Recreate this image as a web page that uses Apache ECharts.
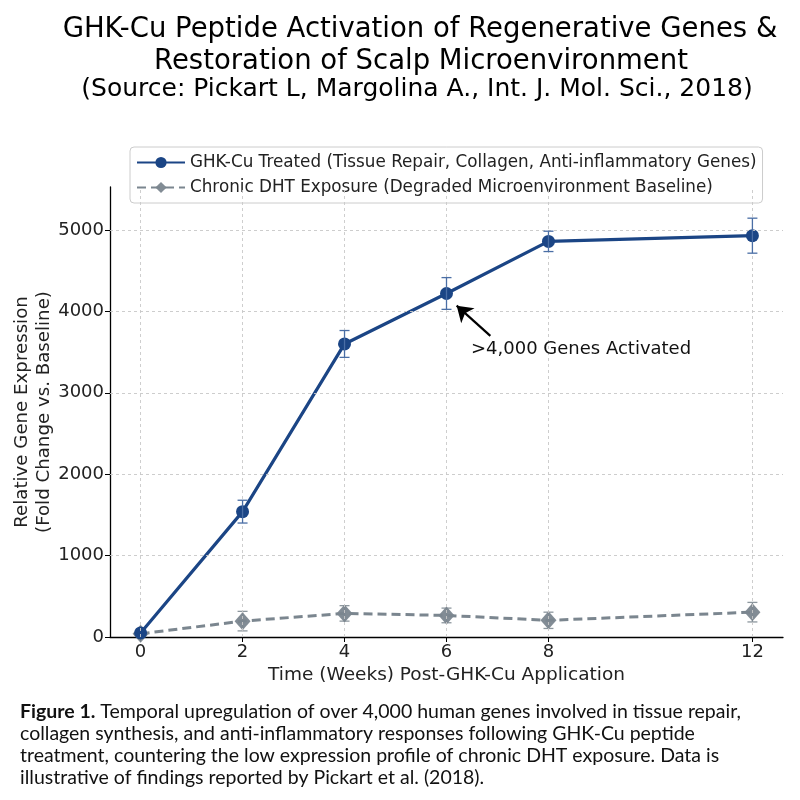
<!DOCTYPE html>
<html>
<head>
  <meta charset="utf-8">
  <title>GHK-Cu chart</title>
  <script src="https://cdn.jsdelivr.net/npm/echarts@6/dist/echarts.min.js"></script>
  <style>
    html, body, #main { width: 800px; height: 800px; margin: 0; padding: 0; background: #fff; }
  </style>
</head>
<body>
<div id="main"></div>
<script>
// data
var weeks = [0, 2, 4, 6, 8, 12];
var ghkValues = [50, 1540, 3600, 4220, 4860, 4930];
var ghkErrors = [0, 140, 165, 195, 125, 215];
var dhtValues = [40, 195, 290, 265, 205, 305];
var dhtErrors = [0, 120, 95, 90, 100, 120];
var xTicks = [0, 2, 4, 6, 8, 12];
var yTicks = [0, 1000, 2000, 3000, 4000, 5000];

var BLUE = '#1b4585';
var GRAY = '#7b868f';
var FONT = 'DejaVu Sans';

function pairs(xs, ys) {
  return xs.map(function (x, i) { return [x, ys[i]]; });
}
function errRows(xs, ys, es) {
  return xs.map(function (x, i) { return [x, ys[i] - es[i], ys[i] + es[i]]; });
}

function errorBar(color) {
  return function (params, api) {
    if (api.value(1) === api.value(2)) return null;
    var lo = api.coord([api.value(0), api.value(1)]);
    var hi = api.coord([api.value(0), api.value(2)]);
    var w = 5;
    var st = { stroke: color, lineWidth: 1.3 };
    return {
      type: 'group',
      children: [
        { type: 'line', shape: { x1: lo[0], y1: lo[1], x2: hi[0], y2: hi[1] }, style: st },
        { type: 'line', shape: { x1: lo[0] - w, y1: lo[1], x2: lo[0] + w, y2: lo[1] }, style: st },
        { type: 'line', shape: { x1: hi[0] - w, y1: hi[1], x2: hi[0] + w, y2: hi[1] }, style: st }
      ]
    };
  };
}

var gridLines = xTicks.map(function (v) { return { xAxis: v }; })
  .concat(yTicks.slice(1).map(function (v) { return { yAxis: v }; }));

var titleStyle = { fontFamily: FONT, fontSize: 27.5, fontWeight: 'normal', color: '#000' };
var labelStyle = { fontFamily: FONT, fontSize: 18, fontWeight: 'normal', color: '#222' };

var chart = echarts.init(document.getElementById('main'), null, { renderer: 'canvas' });

chart.setOption({
  animation: false,
  backgroundColor: '#fff',
  textStyle: { fontFamily: FONT },
  title: [
    { text: 'GHK-Cu Peptide Activation of Regenerative Genes &', left: 415, top: 11, textAlign: 'center', textStyle: titleStyle },
    { text: 'Restoration of Scalp Microenvironment', left: 416, top: 43, textAlign: 'center', textStyle: titleStyle },
    {
      text: '(Source: Pickart L, Margolina A., Int. J. Mol. Sci., 2018)',
      left: 412, top: 72, textAlign: 'center',
      textStyle: { fontFamily: FONT, fontSize: 25, fontWeight: 'normal', color: '#000' }
    }
  ],
  legend: {
    orient: 'vertical',
    left: 130, top: 147,
    padding: [7, 6, 7, 6],
    itemGap: 8,
    itemWidth: 48, itemHeight: 14,
    borderColor: '#cccccc', borderWidth: 1, borderRadius: 4,
    backgroundColor: 'rgba(255,255,255,0.85)',
    textStyle: { fontFamily: FONT, fontSize: 16.8, color: '#222' },
    data: [
      'GHK-Cu Treated (Tissue Repair, Collagen, Anti-inflammatory Genes)',
      'Chronic DHT Exposure (Degraded Microenvironment Baseline)'
    ]
  },
  grid: { left: 110, right: 17, top: 187, bottom: 163 },
  xAxis: {
    type: 'value',
    min: -0.6, max: 12.6,
    name: 'Time (Weeks) Post-GHK-Cu Application',
    nameLocation: 'middle', nameGap: 29, nameMoveOverlap: false,
    nameTextStyle: { fontFamily: FONT, fontSize: 18.5, fontWeight: 'normal', color: '#222' },
    axisLine: { onZero: false, lineStyle: { color: '#000', width: 1.3 } },
    axisTick: { show: true, length: 5, customValues: xTicks, lineStyle: { color: '#000' } },
    axisLabel: Object.assign({ customValues: xTicks, margin: 6 }, labelStyle),
    splitLine: { show: false }
  },
  yAxis: {
    type: 'value',
    min: 0, max: 5528,
    name: 'Relative Gene Expression\n(Fold Change vs. Baseline)',
    nameLocation: 'middle', nameGap: 55, nameMoveOverlap: false,
    nameTextStyle: { fontFamily: FONT, fontSize: 18.2, fontWeight: 'normal', color: '#222', lineHeight: 22 },
    axisLine: { show: true, onZero: false, lineStyle: { color: '#000', width: 1.3 } },
    axisTick: { show: true, length: 5, customValues: yTicks, lineStyle: { color: '#000' } },
    axisLabel: Object.assign({
      customValues: yTicks, margin: 6,
      formatter: function (v) { return String(v); }
    }, labelStyle),
    splitLine: { show: false }
  },
  series: [
    {
      name: 'grid',
      type: 'line',
      data: [],
      silent: true,
      z: 0,
      markLine: {
        silent: true,
        symbol: 'none',
        label: { show: false },
        lineStyle: { color: '#c8c8c8', width: 0.9, type: [3, 3] },
        data: gridLines
      }
    },
    {
      name: 'GHK-Cu Treated (Tissue Repair, Collagen, Anti-inflammatory Genes)',
      type: 'line',
      data: pairs(weeks, ghkValues),
      symbol: 'circle', symbolSize: 13,
      lineStyle: { color: BLUE, width: 3.2 },
      itemStyle: { color: BLUE },
      z: 4,
      markLine: {
        silent: true,
        symbol: ['none', 'arrow'],
        symbolSize: 15,
        label: { show: false },
        lineStyle: { color: '#000', width: 2.2, type: 'solid' },
        data: [[{ coord: [6.86, 3700] }, { coord: [6.2, 4070] }]]
      },
      markPoint: {
        silent: true,
        symbol: 'circle', symbolSize: 0,
        label: {
          show: true, position: 'right', offset: [-6, 0],
          formatter: '>4,000 Genes Activated',
          fontFamily: FONT, fontSize: 18, fontWeight: 'normal', color: '#111'
        },
        data: [{ coord: [6.5, 3530] }]
      }
    },
    {
      name: 'Chronic DHT Exposure (Degraded Microenvironment Baseline)',
      type: 'line',
      data: pairs(weeks, dhtValues),
      symbol: 'diamond', symbolSize: [16, 18],
      lineStyle: { color: GRAY, width: 3, type: [9, 5] },
      itemStyle: { color: GRAY, opacity: 0.95 },
      z: 3
    },
    {
      type: 'custom',
      data: errRows(weeks, ghkValues, ghkErrors),
      renderItem: errorBar('#4a6ea5'),
      z: 5, silent: true
    },
    {
      type: 'custom',
      data: errRows(weeks, dhtValues, dhtErrors),
      renderItem: errorBar('#8d979e'),
      z: 3, silent: true
    }
  ],
  graphic: [
    {
      type: 'text',
      left: 20, top: 701,
      style: {
        text: '{b|Figure 1.} Temporal upregulation of over 4,000 human genes involved in tissue repair,\n' +
          'collagen synthesis, and anti-inflammatory responses following GHK-Cu peptide\n' +
          'treatment, countering the low expression profile of chronic DHT exposure. Data is\n' +
          'illustrative of findings reported by Pickart et al. (2018).',
        fontFamily: 'Lato',
        fontSize: 19.5,
        fill: '#111',
        lineHeight: 22,
        rich: {
          b: { fontFamily: 'Lato', fontWeight: 'bold', fontSize: 19.5, fill: '#111' }
        }
      }
    }
  ]
});
</script>
</body>
</html>
